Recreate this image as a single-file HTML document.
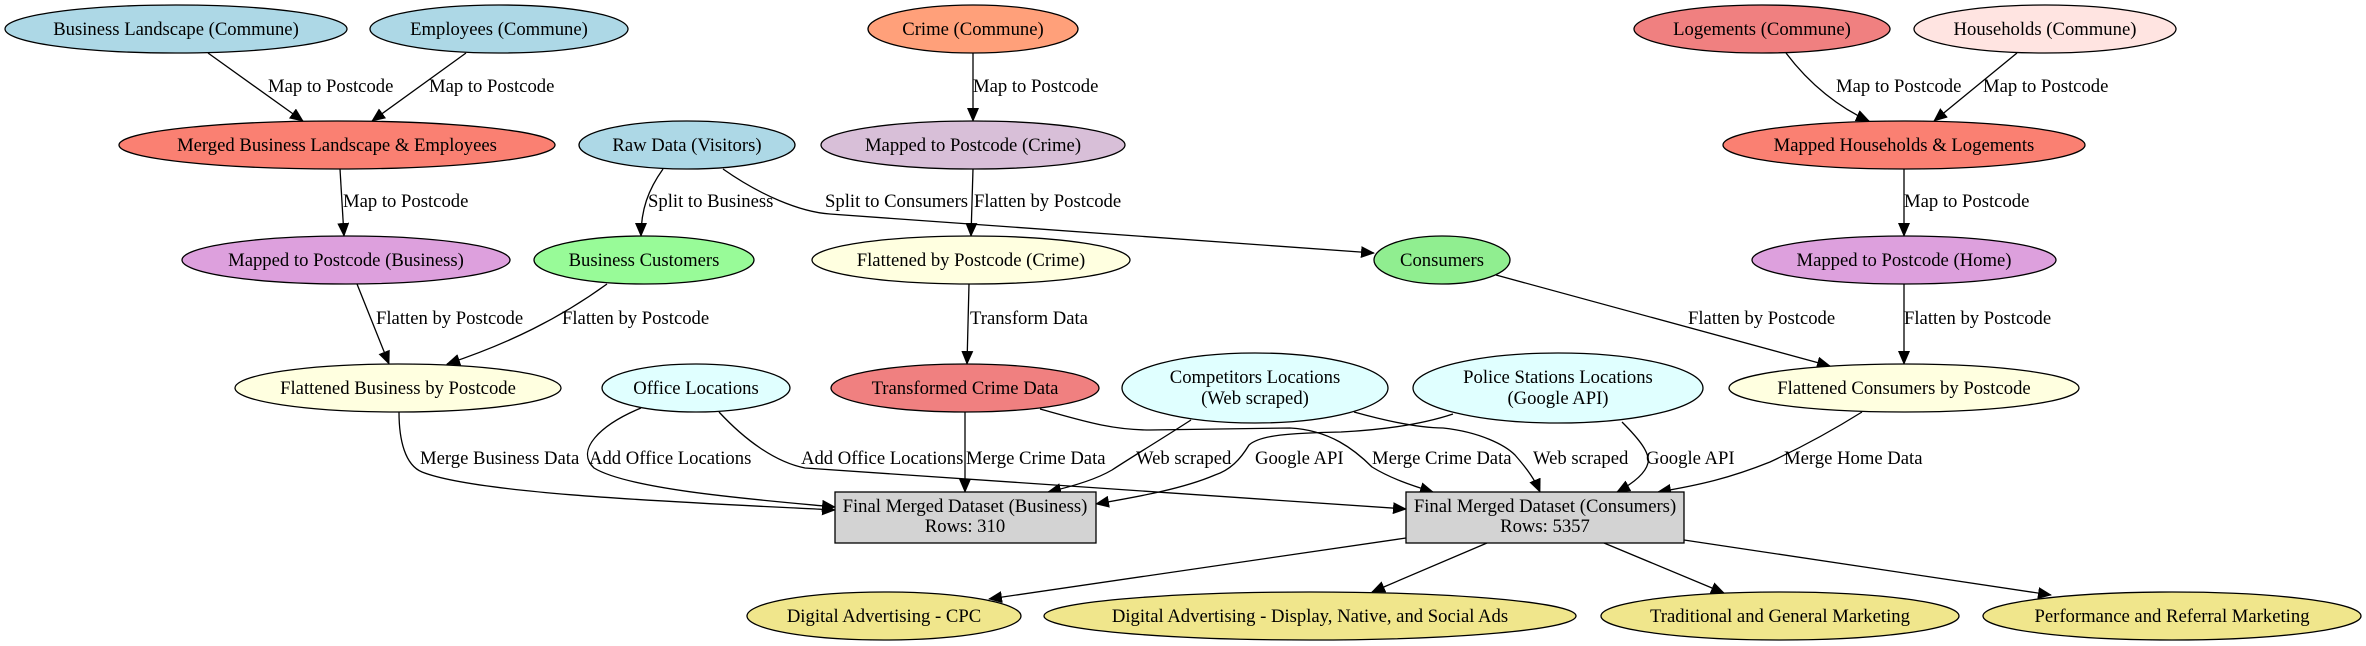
<!DOCTYPE html>
<html><head><meta charset="utf-8"><style>
html,body{margin:0;padding:0;background:#fff;}
svg{display:block;}
text{font-family:"Liberation Serif",serif;font-size:18.67px;fill:#000;}
</style></head><body>
<svg width="2366" height="646" viewBox="0 0 2366 646" xmlns="http://www.w3.org/2000/svg">
<defs>
<marker id="a" markerUnits="userSpaceOnUse" markerWidth="14" markerHeight="12" refX="13" refY="6" orient="auto">
<path d="M0,0 L14,6 L0,12 Z" fill="#000"/>
</marker>
</defs>
<g fill="none" stroke="#000" stroke-width="1.3" marker-end="url(#a)">
<path d="M208,53 L303,121"/>
<path d="M466,53 L372,121"/>
<path d="M340,169 L344,236"/>
<path d="M663,169 C648,190 641,210 641,236"/>
<path d="M723,169 C760,195 800,212 830,214 L1374,253"/>
<path d="M973,53 L973,121"/>
<path d="M973,169 L971,236"/>
<path d="M357,284 L389,364"/>
<path d="M607,284 C560,318 510,343 447,364"/>
<path d="M969,284 L967,364"/>
<path d="M1496,275 L1830,366"/>
<path d="M1904,169 L1904,236"/>
<path d="M1904,284 L1904,364"/>
<path d="M1786,53 C1810,85 1840,108 1869,121"/>
<path d="M2017,53 L1934,121"/>
<path d="M399,412 C399,440 405,465 422,472 C480,495 700,503 835,510"/>
<path d="M641,408 C600,425 575,450 594,468 C630,490 760,500 835,507"/>
<path d="M719,412 C745,440 775,462 805,468 L1406,509"/>
<path d="M965,412 L965,492"/>
<path d="M1040,409 C1080,420 1110,430 1150,430 L1290,428 C1330,430 1355,450 1372,467 C1390,478 1410,485 1433,492"/>
<path d="M1191,420 C1160,440 1135,455 1112,470 C1095,480 1070,487 1048,492"/>
<path d="M1354,412 C1390,422 1420,428 1443,428 C1480,432 1505,445 1515,455 C1528,470 1535,480 1540,492"/>
<path d="M1453,414 C1420,425 1380,430 1341,432 C1290,433 1260,435 1249,445 C1240,460 1230,470 1215,475 C1180,490 1130,498 1096,504"/>
<path d="M1622,422 C1640,440 1650,453 1648,463 C1645,475 1630,485 1617,492"/>
<path d="M1862,412 C1830,432 1800,448 1770,462 C1730,478 1700,485 1658,492"/>
<path d="M1406,538 L989,599"/>
<path d="M1487,543 L1372,592"/>
<path d="M1604,543 L1724,593"/>
<path d="M1684,540 L2051,595"/>
</g>
<g stroke="#000" stroke-width="1.3">
<ellipse cx="176" cy="29" rx="171" ry="24" fill="#add8e6"/>
<ellipse cx="499" cy="29" rx="129" ry="24" fill="#add8e6"/>
<ellipse cx="973" cy="29" rx="105" ry="24" fill="#ffa07a"/>
<ellipse cx="1762" cy="29" rx="128" ry="24" fill="#f08080"/>
<ellipse cx="2045" cy="29" rx="131" ry="24" fill="#ffe4e1"/>
<ellipse cx="337" cy="145" rx="218" ry="24" fill="#fa8072"/>
<ellipse cx="687" cy="145" rx="108" ry="24" fill="#add8e6"/>
<ellipse cx="973" cy="145" rx="152" ry="24" fill="#d8bfd8"/>
<ellipse cx="1904" cy="145" rx="181" ry="24" fill="#fa8072"/>
<ellipse cx="346" cy="260" rx="164" ry="24" fill="#dda0dd"/>
<ellipse cx="644" cy="260" rx="110" ry="24" fill="#98fb98"/>
<ellipse cx="971" cy="260" rx="159" ry="24" fill="#ffffe0"/>
<ellipse cx="1442" cy="260" rx="68" ry="24" fill="#90ee90"/>
<ellipse cx="1904" cy="260" rx="152" ry="24" fill="#dda0dd"/>
<ellipse cx="398" cy="388" rx="163" ry="24" fill="#ffffe0"/>
<ellipse cx="696" cy="388" rx="94" ry="24" fill="#e0ffff"/>
<ellipse cx="965" cy="388" rx="134" ry="24" fill="#f08080"/>
<ellipse cx="1255" cy="388" rx="133" ry="35" fill="#e0ffff"/>
<ellipse cx="1558" cy="388" rx="145" ry="35" fill="#e0ffff"/>
<ellipse cx="1904" cy="388" rx="175" ry="24" fill="#ffffe0"/>
<rect x="835" y="492" width="261" height="51" fill="#d3d3d3"/>
<rect x="1406" y="492" width="278" height="51" fill="#d3d3d3"/>
<ellipse cx="884" cy="616" rx="137" ry="24" fill="#f0e68c"/>
<ellipse cx="1310" cy="616" rx="266" ry="24" fill="#f0e68c"/>
<ellipse cx="1780" cy="616" rx="179" ry="24" fill="#f0e68c"/>
<ellipse cx="2172" cy="616" rx="189" ry="24" fill="#f0e68c"/>
</g>
<g text-anchor="middle">
<text x="176" y="35">Business Landscape (Commune)</text>
<text x="499" y="35">Employees (Commune)</text>
<text x="973" y="35">Crime (Commune)</text>
<text x="1762" y="35">Logements (Commune)</text>
<text x="2045" y="35">Households (Commune)</text>
<text x="337" y="151">Merged Business Landscape &amp; Employees</text>
<text x="687" y="151">Raw Data (Visitors)</text>
<text x="973" y="151">Mapped to Postcode (Crime)</text>
<text x="1904" y="151">Mapped Households &amp; Logements</text>
<text x="346" y="266">Mapped to Postcode (Business)</text>
<text x="644" y="266">Business Customers</text>
<text x="971" y="266">Flattened by Postcode (Crime)</text>
<text x="1442" y="266">Consumers</text>
<text x="1904" y="266">Mapped to Postcode (Home)</text>
<text x="398" y="394">Flattened Business by Postcode</text>
<text x="696" y="394">Office Locations</text>
<text x="965" y="394">Transformed Crime Data</text>
<text x="1255" y="383">Competitors Locations</text>
<text x="1255" y="404">(Web scraped)</text>
<text x="1558" y="383">Police Stations Locations</text>
<text x="1558" y="404">(Google API)</text>
<text x="1904" y="394">Flattened Consumers by Postcode</text>
<text x="965" y="512">Final Merged Dataset (Business)</text>
<text x="965" y="532">Rows: 310</text>
<text x="1545" y="512">Final Merged Dataset (Consumers)</text>
<text x="1545" y="532">Rows: 5357</text>
<text x="884" y="622">Digital Advertising - CPC</text>
<text x="1310" y="622">Digital Advertising - Display, Native, and Social Ads</text>
<text x="1780" y="622">Traditional and General Marketing</text>
<text x="2172" y="622">Performance and Referral Marketing</text>
</g>
<g text-anchor="start">
<text x="268" y="92">Map to Postcode</text>
<text x="429" y="92">Map to Postcode</text>
<text x="973" y="92">Map to Postcode</text>
<text x="1836" y="92">Map to Postcode</text>
<text x="1983" y="92">Map to Postcode</text>
<text x="343" y="207">Map to Postcode</text>
<text x="648" y="207">Split to Business</text>
<text x="825" y="207">Split to Consumers</text>
<text x="974" y="207">Flatten by Postcode</text>
<text x="1904" y="207">Map to Postcode</text>
<text x="376" y="324">Flatten by Postcode</text>
<text x="562" y="324">Flatten by Postcode</text>
<text x="970" y="324">Transform Data</text>
<text x="1688" y="324">Flatten by Postcode</text>
<text x="1904" y="324">Flatten by Postcode</text>
<text x="420" y="464">Merge Business Data</text>
<text x="589" y="464">Add Office Locations</text>
<text x="801" y="464">Add Office Locations</text>
<text x="966" y="464">Merge Crime Data</text>
<text x="1136" y="464">Web scraped</text>
<text x="1255" y="464">Google API</text>
<text x="1372" y="464">Merge Crime Data</text>
<text x="1533" y="464">Web scraped</text>
<text x="1646" y="464">Google API</text>
<text x="1784" y="464">Merge Home Data</text>
</g>
</svg>
</body></html>
